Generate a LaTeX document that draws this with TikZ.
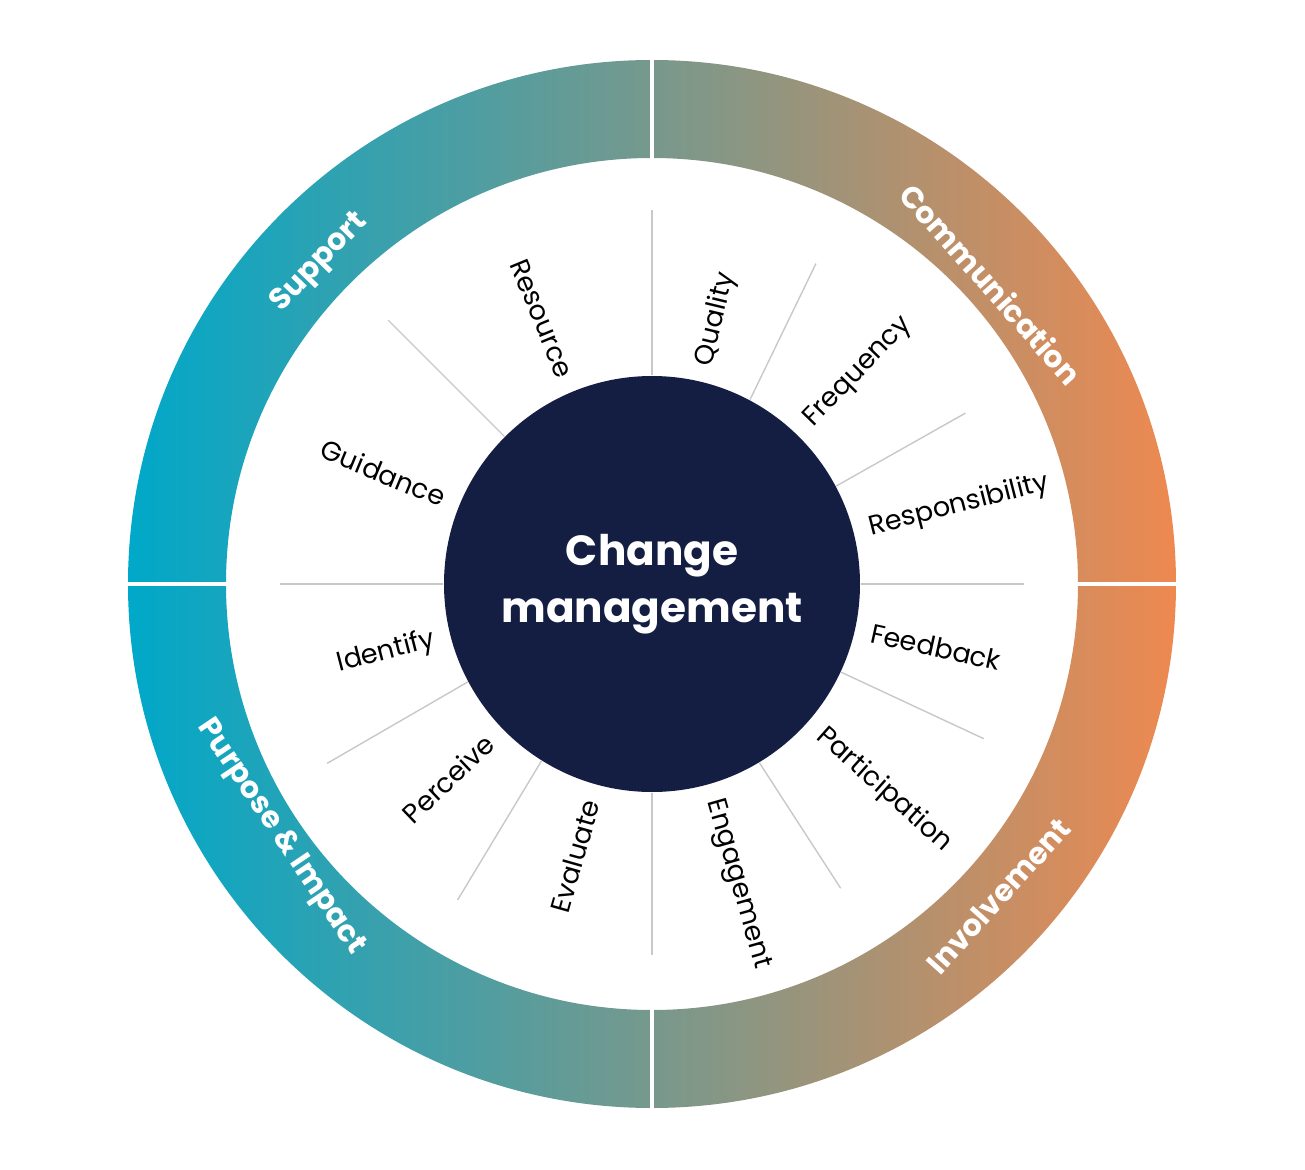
\documentclass[tikz,border=0pt]{standalone}
\usepackage{fontspec}
\setmainfont{Poppins}
\usepackage{tikz}

\definecolor{hubnavy}{RGB}{20,30,66}
\definecolor{ringcyan}{RGB}{0,168,201}
\definecolor{ringorange}{RGB}{238,137,80}
\definecolor{spokegray}{RGB}{200,200,200}

\begin{document}
\begin{tikzpicture}[
    ring/.style={left color=ringcyan, right color=ringorange},
    divider/.style={white, line width=0.9pt},
    spoke/.style={spokegray, line width=0.4pt},
    hub/.style={circle, fill=hubnavy, minimum size=4.16cm, inner sep=0pt, text=white,
                align=center, font=\fontsize{12}{16.2}\selectfont\bfseries},
    item/.style={inner sep=0pt, font=\fontsize{7.7}{9}\selectfont},
    theme/.style={text=white, inner sep=0pt, font=\fontsize{8.6}{11}\selectfont\bfseries},
]
\useasboundingbox (-6.52,-5.85) rectangle (6.53,5.84);

% Outer ring with colour gradient
\path[ring] (5.24,0) arc (0:360:5.24) -- (4.26,0) arc (360:0:4.26) -- cycle;

% Quarter dividers
\foreach \a in {0,90,180,270}
    \draw[divider] (\a:4.22) -- (\a:5.28);

% Central circle
\node[hub] (core) at (0,0) {Change\\management};

% Spokes
\foreach \a/\r in {90/3.74, 62.9/3.60, 28.6/3.57, 0/3.72, 335/3.66, 301.8/3.58,
                   270/3.71, 238.4/3.71, 208.9/3.71, 180/3.72, 135/3.73}
    \draw[spoke] (core.\a) -- (\a:\r);

% Right-hand labels
\foreach \a/\txt/\nm in {76.45/Quality/quality, 45.75/Frequency/frequency,
                         14.3/Responsibility/responsibility, -12.5/Feedback/feedback,
                         -41.6/Participation/participation, -74.1/Engagement/engagement}
    \node[item, anchor=west, rotate=\a] (\nm) at (\a:2.24) {\txt};

% Left-hand labels
\foreach \a/\txt/\nm in {254.2/Evaluate/evaluate, 223.65/Perceive/perceive,
                         194.45/Identify/identify, 157.5/Guidance/guidance,
                         112.5/Resource/resource}
    \node[item, anchor=east, rotate=\a-180] (\nm) at (\a:2.24) {\txt};

% Ring labels
\node[theme, rotate=46] (support) at (136:4.62) {Support};
\node[theme, rotate=-48.5] (communication) at (41.5:4.53) {Communication};
\node[theme, rotate=48] (involvement) at (-42:4.66) {Involvement};
\node[theme, rotate=-56] (purpose) at (-145.7:4.5) {Purpose \& Impact};
\end{tikzpicture}
\end{document}
